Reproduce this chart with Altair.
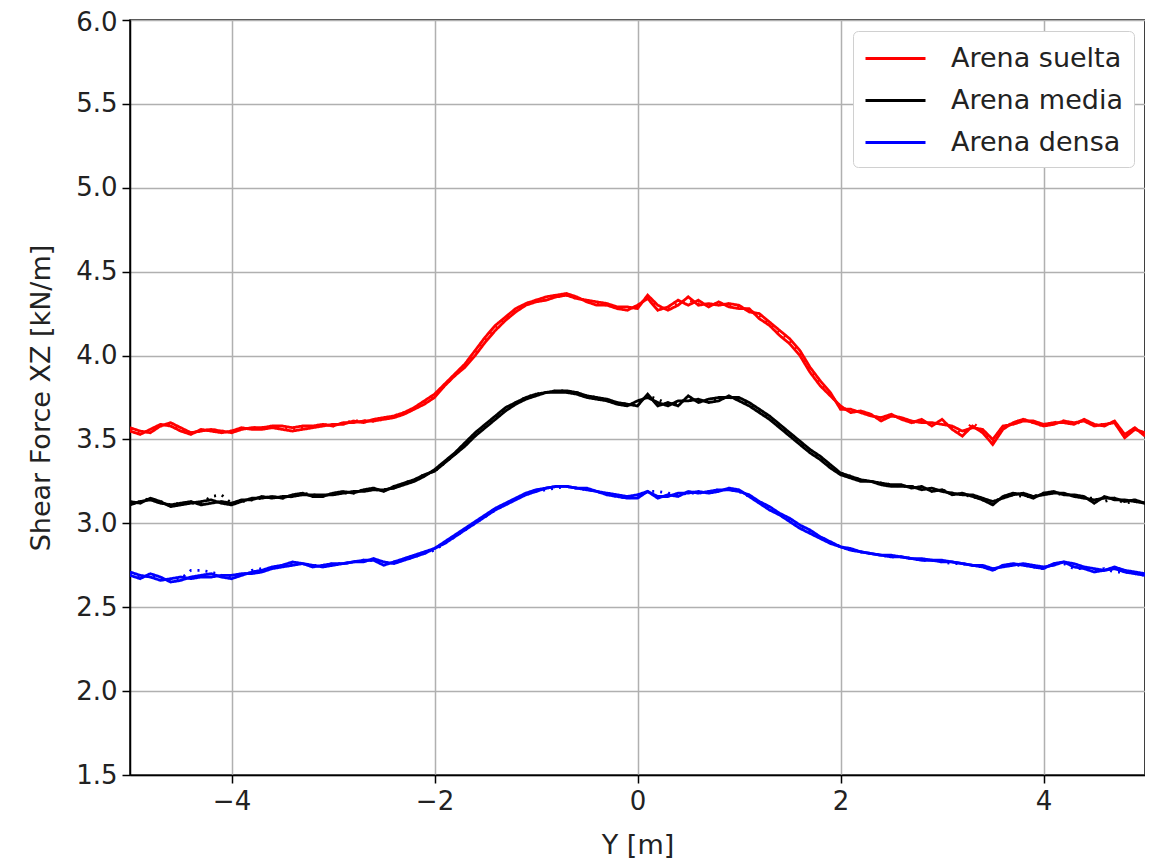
import altair as alt
import pandas as pd

x_vals = [round(-5.0 + 0.1 * i, 1) for i in range(101)]

red_a = [3.57,3.55,3.54,3.58,3.60,3.57,3.54,3.55,3.56,3.55,
         3.54,3.56,3.57,3.57,3.58,3.58,3.57,3.58,3.58,3.59,
         3.58,3.60,3.60,3.61,3.61,3.62,3.63,3.65,3.68,3.71,
         3.75,3.82,3.88,3.93,4.00,4.08,4.15,4.21,4.26,4.30,
         4.32,4.33,4.35,4.36,4.34,4.33,4.32,4.31,4.29,4.29,
         4.28,4.36,4.30,4.27,4.30,4.35,4.30,4.31,4.30,4.31,
         4.30,4.26,4.25,4.20,4.15,4.10,4.03,3.93,3.85,3.78,
         3.68,3.68,3.66,3.64,3.63,3.65,3.62,3.60,3.62,3.58,
         3.62,3.56,3.52,3.58,3.54,3.47,3.56,3.60,3.62,3.60,
         3.58,3.59,3.61,3.60,3.61,3.58,3.59,3.60,3.51,3.56,3.54]
red_b = [3.55,3.53,3.56,3.59,3.58,3.55,3.53,3.56,3.55,3.54,
         3.55,3.57,3.56,3.56,3.57,3.56,3.55,3.56,3.57,3.58,
         3.59,3.59,3.61,3.60,3.62,3.63,3.64,3.66,3.69,3.73,
         3.77,3.83,3.89,3.95,4.03,4.11,4.18,4.23,4.28,4.31,
         4.33,4.35,4.36,4.37,4.35,4.32,4.30,4.30,4.28,4.27,
         4.30,4.34,4.27,4.29,4.33,4.30,4.33,4.29,4.32,4.29,
         4.28,4.28,4.22,4.18,4.12,4.07,4.00,3.90,3.82,3.76,
         3.70,3.66,3.67,3.65,3.61,3.64,3.63,3.61,3.60,3.60,
         3.59,3.58,3.55,3.57,3.56,3.50,3.58,3.59,3.61,3.61,
         3.59,3.60,3.60,3.59,3.62,3.59,3.58,3.61,3.53,3.57,3.52]
red_c = [3.56,3.54,3.55,3.58,3.59,3.56,3.54,3.55,3.56,3.55,
         3.55,3.56,3.57,3.57,3.58,3.57,3.56,3.57,3.58,3.59,
         3.58,3.60,3.61,3.61,3.61,3.62,3.64,3.66,3.68,3.72,
         3.76,3.82,3.88,3.94,4.02,4.09,4.16,4.22,4.27,4.31,
         4.33,4.34,4.35,4.36,4.34,4.33,4.31,4.30,4.29,4.28,
         4.29,4.35,4.29,4.28,4.31,4.33,4.31,4.30,4.31,4.30,
         4.29,4.27,4.24,4.19,4.14,4.09,4.02,3.92,3.84,3.77,
         3.69,3.67,3.66,3.65,3.62,3.64,3.63,3.60,3.61,3.59,
         3.60,3.57,3.53,3.60,3.55,3.49,3.57,3.60,3.62,3.60,
         3.58,3.60,3.61,3.59,3.61,3.59,3.59,3.60,3.52,3.56,3.53]

black_a = [3.13,3.12,3.15,3.13,3.10,3.11,3.12,3.13,3.14,3.12,
           3.11,3.13,3.15,3.15,3.16,3.15,3.17,3.18,3.16,3.16,
           3.18,3.19,3.18,3.20,3.21,3.19,3.22,3.24,3.26,3.29,
           3.31,3.36,3.41,3.46,3.52,3.57,3.62,3.67,3.71,3.74,
           3.76,3.78,3.79,3.79,3.78,3.76,3.75,3.74,3.72,3.71,
           3.70,3.77,3.70,3.72,3.70,3.76,3.72,3.74,3.75,3.75,
           3.75,3.72,3.68,3.64,3.59,3.54,3.49,3.44,3.40,3.35,
           3.30,3.28,3.26,3.25,3.24,3.23,3.23,3.21,3.22,3.19,
           3.20,3.17,3.18,3.16,3.14,3.11,3.16,3.18,3.17,3.15,
           3.18,3.19,3.17,3.17,3.16,3.12,3.16,3.14,3.14,3.13,3.12]
black_b = [3.11,3.13,3.14,3.12,3.11,3.12,3.13,3.11,3.12,3.13,
           3.12,3.14,3.14,3.16,3.15,3.16,3.16,3.17,3.17,3.17,
           3.17,3.18,3.19,3.19,3.20,3.20,3.21,3.23,3.25,3.28,
           3.32,3.37,3.42,3.48,3.54,3.59,3.64,3.69,3.72,3.75,
           3.77,3.78,3.78,3.78,3.77,3.75,3.74,3.73,3.71,3.70,
           3.73,3.75,3.72,3.70,3.73,3.73,3.74,3.72,3.73,3.76,
           3.73,3.70,3.66,3.62,3.57,3.52,3.47,3.42,3.38,3.33,
           3.29,3.27,3.25,3.25,3.23,3.22,3.22,3.22,3.20,3.21,
           3.19,3.18,3.17,3.17,3.15,3.13,3.15,3.17,3.18,3.16,
           3.17,3.18,3.18,3.16,3.15,3.14,3.15,3.15,3.13,3.14,3.12]
black_c = [3.12,3.13,3.15,3.13,3.11,3.12,3.12,3.12,3.16,3.17,
           3.12,3.13,3.14,3.15,3.16,3.15,3.16,3.18,3.17,3.16,
           3.18,3.18,3.18,3.20,3.20,3.20,3.21,3.24,3.26,3.29,
           3.31,3.36,3.41,3.47,3.53,3.58,3.63,3.68,3.72,3.75,
           3.77,3.78,3.79,3.79,3.78,3.76,3.75,3.73,3.72,3.71,
           3.71,3.76,3.74,3.71,3.72,3.74,3.73,3.73,3.74,3.75,
           3.74,3.71,3.67,3.63,3.58,3.53,3.48,3.43,3.39,3.34,
           3.30,3.28,3.26,3.25,3.24,3.23,3.22,3.22,3.21,3.20,
           3.20,3.18,3.17,3.16,3.14,3.12,3.16,3.17,3.16,3.16,
           3.18,3.18,3.17,3.17,3.15,3.15,3.13,3.15,3.12,3.13,3.12]

blue_a = [2.69,2.67,2.70,2.68,2.65,2.66,2.68,2.69,2.70,2.68,
          2.67,2.69,2.71,2.72,2.74,2.75,2.77,2.76,2.74,2.75,
          2.76,2.76,2.77,2.78,2.78,2.75,2.77,2.79,2.81,2.83,
          2.85,2.89,2.93,2.97,3.01,3.05,3.09,3.12,3.15,3.18,
          3.20,3.21,3.22,3.22,3.21,3.20,3.19,3.17,3.16,3.15,
          3.15,3.19,3.15,3.17,3.16,3.19,3.18,3.19,3.20,3.20,
          3.19,3.17,3.13,3.10,3.06,3.03,2.99,2.96,2.92,2.89,
          2.86,2.85,2.83,2.82,2.81,2.80,2.80,2.79,2.78,2.78,
          2.77,2.77,2.76,2.75,2.74,2.72,2.75,2.76,2.75,2.74,
          2.73,2.76,2.77,2.74,2.73,2.71,2.72,2.73,2.71,2.70,2.69]
blue_b = [2.71,2.69,2.68,2.66,2.67,2.68,2.67,2.68,2.68,2.69,
          2.69,2.70,2.70,2.71,2.73,2.74,2.75,2.76,2.75,2.74,
          2.75,2.76,2.77,2.77,2.79,2.77,2.76,2.78,2.80,2.82,
          2.85,2.88,2.92,2.96,3.00,3.04,3.08,3.11,3.14,3.17,
          3.19,3.21,3.22,3.22,3.21,3.21,3.19,3.18,3.17,3.16,
          3.17,3.19,3.16,3.16,3.18,3.18,3.19,3.18,3.19,3.21,
          3.20,3.16,3.12,3.08,3.05,3.01,2.97,2.94,2.91,2.88,
          2.86,2.84,2.83,2.82,2.81,2.81,2.80,2.79,2.79,2.78,
          2.78,2.77,2.76,2.75,2.75,2.73,2.74,2.75,2.76,2.75,
          2.74,2.75,2.77,2.76,2.74,2.73,2.72,2.74,2.72,2.71,2.70]
blue_c = [2.70,2.68,2.69,2.67,2.66,2.67,2.72,2.72,2.71,2.69,
          2.68,2.69,2.72,2.73,2.73,2.75,2.76,2.76,2.75,2.75,
          2.76,2.76,2.77,2.78,2.78,2.76,2.77,2.78,2.80,2.82,
          2.84,2.88,2.92,2.96,3.00,3.04,3.08,3.11,3.15,3.17,
          3.19,3.20,3.21,3.22,3.21,3.20,3.19,3.17,3.16,3.15,
          3.16,3.19,3.19,3.18,3.17,3.18,3.18,3.19,3.20,3.20,
          3.19,3.16,3.13,3.09,3.05,3.02,2.98,2.95,2.92,2.89,
          2.86,2.84,2.83,2.82,2.81,2.80,2.80,2.79,2.78,2.78,
          2.77,2.76,2.76,2.75,2.74,2.72,2.75,2.75,2.75,2.74,
          2.73,2.76,2.76,2.73,2.73,2.72,2.73,2.71,2.71,2.70,2.69]

materials = ["Arena suelta", "Arena media", "Arena densa"]
colors = ["#ff0000", "#000000", "#0000ff"]
series = {
    ("Arena suelta", "a"): red_a, ("Arena suelta", "b"): red_b, ("Arena suelta", "c"): red_c,
    ("Arena media", "a"): black_a, ("Arena media", "b"): black_b, ("Arena media", "c"): black_c,
    ("Arena densa", "a"): blue_a, ("Arena densa", "b"): blue_b, ("Arena densa", "c"): blue_c,
}

rows = []
for (mat, var), vals in series.items():
    assert len(vals) == len(x_vals), (mat, var, len(vals))
    for xv, yv in zip(x_vals, vals):
        rows.append({"Y": xv, "F": yv, "mat": mat, "var": var, "key": mat + var})
df = pd.DataFrame(rows)

FONT = "DejaVu Sans"

chart = alt.Chart(df).mark_line(strokeWidth=2.8, clip=True).encode(
    x=alt.X("Y:Q", title="Y [m]",
            scale=alt.Scale(domain=[-5, 5], nice=False, zero=False),
            axis=alt.Axis(values=[-4, -2, 0, 2, 4], format="d")),
    y=alt.Y("F:Q", title="Shear Force XZ [kN/m]",
            scale=alt.Scale(domain=[1.5, 6.0], nice=False, zero=False),
            axis=alt.Axis(values=[1.5, 2.0, 2.5, 3.0, 3.5, 4.0, 4.5, 5.0, 5.5, 6.0], format=".1f",
                          labelOffset={"condition": {"test": "datum.value >= 6", "value": 2},
                                       "value": 0})),
    color=alt.Color("mat:N", scale=alt.Scale(domain=materials, range=colors),
                    legend=alt.Legend(title=None, orient="top-right", offset=11,
                                      symbolType="M-1,0L3,0", symbolSize=900,
                                      symbolStrokeWidth=2.8, labelOffset=54, labelLimit=0,
                                      labelFontSize=27, labelFont=FONT, labelColor="#222222",
                                      rowPadding=12, padding=11,
                                      fillColor="white", strokeColor="#d0d0d0",
                                      cornerRadius=5)),
    strokeDash=alt.StrokeDash("var:N", scale=alt.Scale(domain=["a", "b", "c"],
                              range=[[1, 0], [1, 0], [2, 6]]), legend=None),
    detail="key:N",
).properties(
    width=1015, height=755,
    autosize=alt.AutoSizeParams(type="none"),
    padding={"left": 122, "top": 12, "right": 0, "bottom": 84},
).configure_view(
    stroke="#000000", strokeWidth=1.5
).configure_axis(
    labelFont=FONT, titleFont=FONT, labelFontSize=26, titleFontSize=27,
    titleFontWeight="normal", labelColor="#222222", titleColor="#222222",
    domainColor="#000000", domainWidth=1.5, tickColor="#000000", tickWidth=1.5,
    tickSize=8, labelPadding=5,
    grid=True, gridColor="#b0b0b0", gridWidth=1.5,
).configure_axisY(
    titlePadding=20
).configure_axisX(
    titlePadding=18
)

chart.save("out.html", embed_options={"renderer": "svg", "actions": False})
